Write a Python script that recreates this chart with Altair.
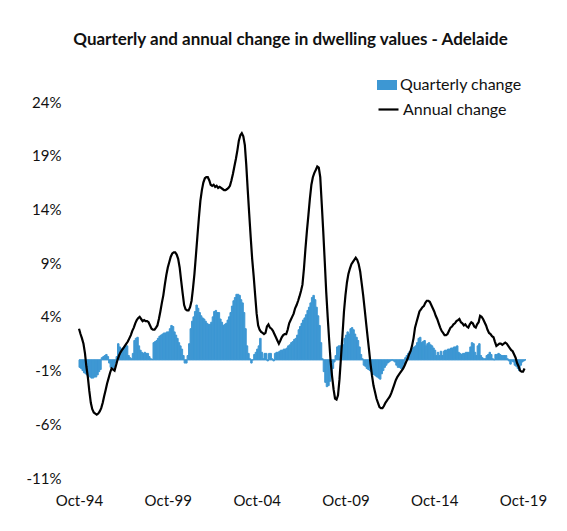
import altair as alt
import pandas as pd

TITLE = "Quarterly and annual change in dwelling values - Adelaide"
START = "1994-10-01"
SERIES = ["Quarterly change", "Annual change"]
X_LABELS = ["Oct-94", "Oct-99", "Oct-04", "Oct-09", "Oct-14", "Oct-19"]
Y_TICKS = [-11, -6, -1, 4, 9, 14, 19, 24]

# Annual change (%), monthly from Oct-94
annual = [
    2.9, 2.4, 2.0, 1.5, 0.6, -0.6, -1.6, -2.9, -4.0, -4.6, -4.9, -5.0,
    -5.1, -5.0, -4.8, -4.5, -4.0, -3.4, -2.8, -2.2, -1.7, -1.2, -0.8, -0.9,
    -1.0, -0.5, 0.0, 0.4, 0.7, 0.9, 1.1, 1.3, 1.5, 1.7, 2.0, 2.3,
    2.7, 3.0, 3.4, 3.7, 3.9, 4.0, 3.8, 3.6, 3.7, 3.6, 3.6, 3.5,
    3.2, 2.9, 2.8, 2.8, 3.0, 3.2, 3.8, 4.5, 5.3, 6.0, 7.0, 7.9,
    8.6, 9.1, 9.6, 9.9, 10.0, 10.0, 9.8, 9.4, 8.6, 7.4, 6.2, 5.1,
    4.7, 4.6, 4.6, 4.9, 5.5, 6.6, 8.0, 9.7, 11.5, 13.2, 14.8, 15.8,
    16.5, 16.9, 17.0, 17.0, 16.7, 16.3, 16.2, 16.3, 16.1, 16.2, 16.0, 16.1,
    16.0, 15.9, 15.8, 15.8, 15.9, 16.0, 16.2, 16.7, 17.3, 18.0, 18.7, 19.5,
    20.4, 20.9, 21.1, 20.8, 20.0, 18.2, 15.8, 13.6, 11.4, 9.4, 7.8, 6.0,
    4.3, 3.2, 2.8, 2.6, 2.5, 2.4, 2.5, 3.1, 3.3, 3.0, 2.9, 2.7,
    2.4, 2.1, 1.8, 1.5, 1.8, 2.1, 2.3, 2.4, 2.4, 2.8, 3.4, 3.7,
    4.0, 4.3, 4.8, 5.1, 5.5, 5.9, 6.4, 7.0, 8.5, 10.3, 12.0, 13.5,
    15.0, 16.3, 17.0, 17.4, 17.7, 18.0, 17.9, 17.0, 14.5, 12.0, 9.2, 6.3,
    4.0, 1.8, -0.2, -1.6, -2.8, -3.6, -3.7, -3.3, -1.8, 0.2, 2.3, 4.5,
    6.0, 7.2, 8.0, 8.5, 8.9, 9.1, 9.3, 9.5, 9.3, 8.9, 8.2, 7.1,
    6.0, 4.7, 3.4, 2.1, 0.8, -0.4, -1.5, -2.4, -3.0, -3.6, -4.0, -4.4,
    -4.5, -4.5, -4.3, -4.0, -3.8, -3.6, -3.4, -3.1, -2.7, -2.3, -1.9, -1.6,
    -1.4, -1.2, -1.0, -0.8, -0.5, -0.2, 0.1, 0.5, 0.8, 1.3, 2.0, 3.0,
    3.5, 4.0, 4.5, 4.7, 4.9, 5.0, 5.3, 5.5, 5.5, 5.4, 5.1, 4.8,
    4.5, 4.1, 3.8, 3.4, 3.0, 2.7, 2.5, 2.3, 2.3, 2.4, 2.7, 3.0,
    3.1, 3.3, 3.4, 3.6, 3.7, 3.8, 3.5, 3.4, 3.2, 3.3, 3.1, 3.0,
    3.3, 3.5, 3.4, 3.1, 3.0, 3.3, 3.5, 4.1, 4.0, 3.8, 3.5, 3.2,
    2.8, 2.5, 2.4, 2.2, 2.1, 1.7, 1.3, 1.4, 1.5, 1.5, 1.4, 1.5,
    1.6, 1.5, 1.3, 1.1, 0.9, 0.8, 0.5, 0.2, -0.3, -0.6, -1.0, -1.1,
    -1.1, -0.8,
]

# Quarterly change (%), monthly from Oct-94
quarterly = [
    -0.7, -0.8, -1.0, -1.2, -1.3, -1.4, -1.5, -1.6, -1.7, -1.7, -1.6, -1.6,
    -1.4, -1.1, -0.9, 0.2, 0.3, 0.4, 0.5, 0.3, -0.3, -0.7, -0.8, -0.7,
    -0.3, 0.3, 1.5, 1.2, 1.0, 1.1, 1.2, 1.3, 1.3, 0.4, 0.2, 0.1,
    0.6, 1.8, 2.0, 2.1, 1.3, 0.9, 0.7, 0.6, 0.7, 0.6, 0.6, 0.3,
    0.1, 0.05, 1.6, 1.7, 1.8, 2.0, 2.2, 2.3, 2.4, 2.5, 2.5, 2.6,
    2.6, 2.9, 3.2, 3.1, 2.6, 2.3, 2.0, 1.6, 1.3, 1.0, 0.4, -0.3,
    -0.3, 0.4, 1.5, 2.9, 3.6, 4.0, 4.5, 5.1, 4.8, 4.4, 4.1, 3.9,
    3.8, 3.6, 3.4, 3.3, 3.3, 3.5, 4.0, 4.5, 4.6, 4.4, 4.4, 3.8,
    3.5, 3.2, 3.3, 3.4, 3.7, 4.0, 4.4, 5.0, 5.5, 5.8, 6.1, 6.1,
    6.0, 5.6, 5.3, 4.4, 2.9, 1.3, 0.6, 0.1, -0.3, 0.0, 0.5, 0.7,
    1.0, 1.3, 2.0, 0.7, 0.1, 0.6, 0.6, -0.1, 0.6, 0.6, 0.1, -0.1,
    0.6, 0.7, 0.7, 0.8, 0.9, 0.9, 1.0, 1.0, 1.1, 1.3, 1.4, 1.6,
    1.7, 1.9, 2.0, 2.3, 2.8, 3.1, 3.4, 3.7, 3.9, 4.2, 4.6, 4.9,
    5.3, 5.8, 6.0, 5.6, 4.9, 4.1, 3.2, 1.6, 0.1, -1.1, -2.1, -2.5,
    -2.4, -2.0, -1.5, -0.8, -0.2, 0.4, 1.2, 1.3, 1.3, 1.3, 1.4, 2.0,
    2.3, 2.6, 2.4, 2.9, 3.0, 2.8, 2.4, 2.1, 1.8, 1.2, 0.5, 0.1,
    -0.5, -0.6, -0.8, -0.9, -1.0, -1.1, -1.3, -1.4, -1.5, -1.6, -1.7, -1.8,
    -1.3, -1.0, -0.7, -0.5, -0.3, -0.2, -0.1, 0.0, -0.1, -0.2, -0.5, -0.7,
    -0.7, -0.8, -0.8, -0.4, 0.2, 0.4, 0.6, 0.8, 1.0, 1.1, 1.2, 1.3,
    1.6, 2.0, 2.1, 1.6, 1.7, 1.8, 1.3, 1.5, 1.6, 1.4, 1.3, 1.1,
    0.9, 0.4, 0.7, 0.4, 0.8, 0.4, 0.8, 0.9, 0.9, 1.0, 1.0, 1.1,
    1.1, 1.2, 1.2, 1.3, 0.7, 0.6, 0.5, 0.6, 0.6, 0.7, 0.7, 0.7,
    1.2, 1.6, 1.5, 0.7, 0.4, 1.3, 1.5, 0.4, 0.2, 0.1, 0.1, 0.4,
    0.5, 0.7, 0.5, 0.1, 0.0, 0.5, 0.5, 0.6, 0.5, 0.4, 0.4, 0.4,
    0.4, 0.1, -0.1, -0.4, -0.1, -0.2, -0.5, -0.6, -0.8, -1.0, -0.5, -0.2,
    -0.1, 0.0,
]

BLUE = "#3d97d3"
FONT = "Lato"
TXT = "#111111"

n = len(annual)
months = pd.date_range(START, periods=n + 1, freq="MS")
df = pd.DataFrame({
    "date": months[:-1].strftime("%Y-%m-%d"),
    "date_end": months[1:].strftime("%Y-%m-%d"),
    "annual": annual,
    "quarterly": quarterly,
    "s1": SERIES[0],
    "s2": SERIES[1],
})

tick_dates = [pd.to_datetime(l, format="%b-%y") for l in X_LABELS]
tick_values = [alt.DateTime(year=d.year, month=d.month, date=1, utc=True) for d in tick_dates]

xscale = alt.Scale(type="utc", domain=[
    alt.DateTime(year=months[0].year, month=months[0].month, date=1, utc=True),
    alt.DateTime(year=months[-1].year, month=months[-1].month, date=1, utc=True),
])
yscale = alt.Scale(domain=[Y_TICKS[0], Y_TICKS[-1]], nice=False, zero=False)

xaxis = alt.Axis(values=tick_values, labelExpr="utcFormat(datum.value, '%b-%y')",
                 domain=False, ticks=False, grid=False, labelFontSize=15,
                 labelFont=FONT, labelColor=TXT, labelPadding=15, labelFlush=False,
                 labelOverlap=False, title=None)
yaxis = alt.Axis(values=Y_TICKS, labelExpr="datum.value + '%'", domain=False,
                 ticks=False, grid=False, labelFontSize=15, labelFont=FONT,
                 labelColor=TXT, labelPadding=18, labelFlush=False, title=None)

zero = alt.Chart(pd.DataFrame({"z": [0]})).mark_rule(color="#a9cfea", strokeWidth=1).encode(
    y=alt.Y("z:Q", scale=yscale, axis=yaxis)
)

bars = alt.Chart(df).mark_rect(stroke=BLUE, strokeWidth=1.0).encode(
    x=alt.X("date:T", scale=xscale, axis=xaxis),
    x2="date_end:T",
    y=alt.Y("quarterly:Q", scale=yscale, axis=yaxis),
    y2=alt.datum(0),
    fill=alt.Fill("s1:N", scale=alt.Scale(range=[BLUE]),
                  legend=alt.Legend(title=None, orient="none", legendX=298, legendY=-27,
                                    symbolType="M-1,-0.5H1V0.5H-1Z", symbolSize=400,
                                    symbolStrokeWidth=0, symbolOpacity=1,
                                    labelFontSize=16, labelFont=FONT, labelColor=TXT,
                                    labelOffset=3, padding=0)),
)

line = alt.Chart(df).mark_line(strokeWidth=2.2).encode(
    x=alt.X("date:T", scale=xscale, axis=xaxis),
    y=alt.Y("annual:Q", scale=yscale, axis=yaxis),
    stroke=alt.Stroke("s2:N", scale=alt.Scale(range=["#000000"]),
                      legend=alt.Legend(title=None, orient="none", legendX=298, legendY=-4,
                                        symbolType="stroke", symbolSize=400,
                                        symbolStrokeWidth=2.2,
                                        labelFontSize=16, labelFont=FONT, labelColor=TXT,
                                        labelOffset=3, padding=0)),
)

chart = alt.layer(zero, bars, line).properties(
    width=447,
    height=376,
    title=alt.TitleParams(TITLE, fontSize=17, font=FONT, fontWeight="bold",
                          color="#111111", offset=26, dx=-12, anchor="middle"),
    autosize=alt.AutoSizeParams(type="none"),
    padding={"left": 71, "top": 94, "right": 33, "bottom": 45},
).configure_view(stroke=None)

chart.save("out.html", embed_options={"renderer": "svg", "actions": False})
